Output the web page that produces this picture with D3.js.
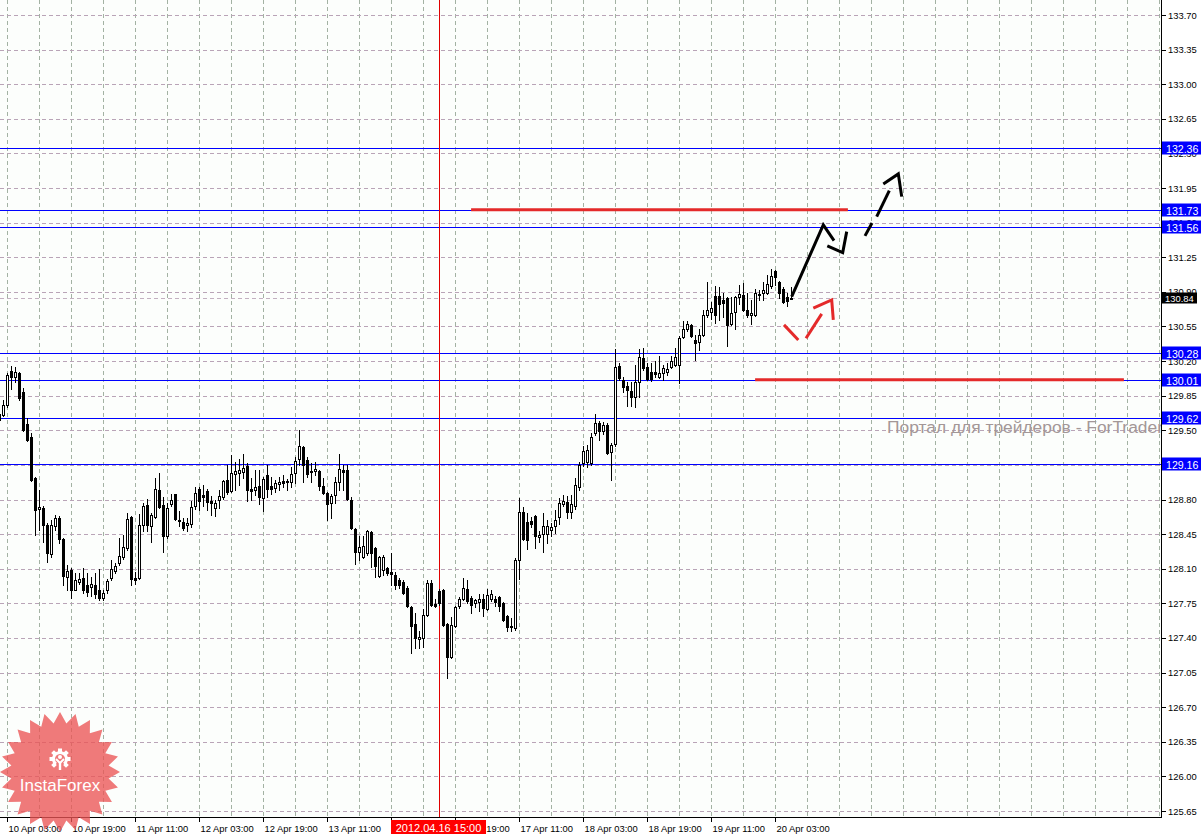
<!DOCTYPE html>
<html><head><meta charset="utf-8">
<script src="https://cdn.jsdelivr.net/npm/d3@7"></script>
<style>body{margin:0;background:#fff}svg{display:block}</style>
</head><body>
<svg id="c" width="1203" height="834"></svg>
<script>
// ---- data (H1 candles, index 0 = 10 Apr 02:00) ----
const firstIndex = -1;
const open  = [129.66,129.65,129.76,130.10,130.04,130.08,129.89,129.56,129.43,129.02,128.70,128.71,128.54,128.25,128.53,128.61,128.40,128.02,128.09,127.89,127.97,128.01,127.94,127.92,127.94,127.89,127.80,127.89,128.01,128.08,128.16,128.22,128.31,128.62,128.01,128.01,128.54,128.74,128.53,128.62,128.90,128.74,128.43,128.75,128.86,128.59,128.57,128.54,128.55,128.73,128.91,128.85,128.89,128.79,128.71,128.80,128.83,129.00,128.89,129.06,129.07,129.08,129.14,128.91,128.90,128.94,128.82,129.05,128.94,128.92,128.96,128.99,128.99,128.98,129.07,129.21,129.33,129.20,129.09,129.09,129.09,128.94,128.87,128.76,128.85,128.98,129.10,129.10,128.80,128.50,128.27,128.22,128.26,128.47,128.31,128.03,128.09,128.11,128.07,128.04,127.99,127.97,127.91,127.71,127.54,127.39,127.40,127.63,127.96,127.74,127.87,127.88,127.54,127.21,127.52,127.72,127.79,127.90,127.80,127.75,127.76,127.79,127.69,127.79,127.79,127.81,127.75,127.62,127.52,127.50,128.19,128.67,128.57,128.58,128.63,128.42,128.45,128.45,128.49,128.53,128.62,128.75,128.77,128.67,128.73,128.93,129.17,129.18,129.17,129.47,129.57,129.49,129.55,129.28,129.36,130.15,130.01,129.95,129.90,129.84,129.99,130.23,130.14,130.09,130.09,130.04,130.08,130.09,130.14,130.16,130.16,130.44,130.52,130.57,130.41,130.39,130.46,130.67,130.70,130.86,130.86,130.82,130.84,130.58,130.70,130.85,130.87,130.72,130.67,130.67,130.87,130.89,130.89,130.96,131.11,131.00,130.93,130.85,130.83];
const high  = [129.67,129.81,130.08,130.15,130.14,130.09,129.93,129.62,129.47,129.03,128.90,128.73,128.56,128.59,128.64,128.63,128.41,128.14,128.11,128.06,128.06,128.11,128.06,128.02,128.06,128.10,127.89,128.00,128.19,128.16,128.41,128.44,128.66,128.63,128.07,128.65,128.76,128.81,128.66,129.02,129.07,128.83,128.76,128.86,128.86,128.68,128.61,128.61,128.79,128.93,128.93,128.95,128.91,128.84,128.80,128.90,129.00,129.15,129.25,129.18,129.21,129.26,129.17,129.02,129.10,129.10,129.03,129.15,129.03,129.00,129.03,129.05,129.01,129.13,129.23,129.50,129.34,129.23,129.17,129.18,129.10,129.02,128.88,128.86,129.03,129.26,129.15,129.15,128.83,128.51,128.43,128.43,128.49,128.48,128.32,128.23,128.24,128.12,128.26,128.07,128.01,127.99,127.93,127.72,127.65,127.47,127.69,127.99,127.99,127.79,127.90,127.90,127.55,127.61,127.72,127.81,128.01,127.99,127.82,127.79,127.84,127.84,127.90,127.89,127.82,127.82,127.76,127.63,127.60,128.21,128.82,128.72,128.66,128.62,128.64,128.48,128.66,128.59,128.56,128.69,128.82,128.85,128.84,128.85,129.02,129.18,129.34,129.35,129.47,129.66,129.59,129.58,129.57,129.37,130.32,130.18,130.04,129.99,129.99,130.16,130.32,130.33,130.18,130.18,130.20,130.25,130.16,130.18,130.25,130.33,130.45,130.61,130.61,130.58,130.46,130.52,130.72,131.00,130.80,130.96,130.95,130.89,130.85,130.85,130.86,130.97,130.99,130.89,130.82,130.93,130.92,131.00,131.07,131.13,131.12,131.01,130.95,130.89,130.95];
const low   = [129.54,129.64,129.74,129.92,129.99,129.81,129.49,129.39,128.99,128.44,128.49,128.37,128.17,128.22,128.49,128.36,127.94,127.89,127.80,127.88,127.95,127.85,127.82,127.82,127.80,127.78,127.78,127.85,127.99,128.06,128.14,128.20,128.29,127.94,127.95,128.00,128.48,128.48,128.37,128.61,128.71,128.27,128.41,128.73,128.59,128.53,128.49,128.48,128.52,128.70,128.69,128.73,128.69,128.64,128.63,128.71,128.81,128.86,128.88,128.90,128.95,129.02,128.78,128.80,128.85,128.75,128.68,128.83,128.86,128.88,128.90,128.93,128.90,128.93,128.97,129.15,128.98,129.03,128.98,129.05,128.90,128.86,128.59,128.61,128.76,128.90,128.90,128.80,128.50,128.15,128.19,128.21,128.24,128.12,128.02,128.02,128.04,128.04,127.94,127.90,127.91,127.84,127.71,127.25,127.30,127.30,127.31,127.62,127.72,127.71,127.73,127.52,126.99,127.20,127.51,127.70,127.78,127.75,127.65,127.71,127.67,127.62,127.68,127.77,127.72,127.67,127.57,127.47,127.47,127.48,128.00,128.39,128.30,128.52,128.31,128.37,128.27,128.36,128.43,128.46,128.55,128.73,128.61,128.61,128.70,128.90,129.14,129.13,129.15,129.45,129.40,129.46,129.26,129.00,129.34,130.01,129.89,129.75,129.75,129.74,129.84,130.11,130.01,130.00,130.04,130.03,130.01,130.06,130.13,130.15,129.98,130.43,130.50,130.44,130.21,130.31,130.45,130.65,130.63,130.59,130.62,130.65,130.35,130.56,130.52,130.78,130.71,130.65,130.58,130.66,130.82,130.82,130.88,130.94,130.97,130.84,130.79,130.76,130.83];
const close = [129.60,129.76,130.06,130.04,130.09,129.83,129.50,129.40,129.00,128.69,128.72,128.54,128.26,128.54,128.61,128.40,128.03,128.08,127.89,127.99,128.00,127.89,127.86,127.95,127.84,127.80,127.85,127.98,128.10,128.13,128.23,128.32,128.60,128.00,127.99,128.54,128.73,128.54,128.64,128.91,128.72,128.43,128.71,128.80,128.60,128.58,128.51,128.56,128.72,128.87,128.78,128.83,128.77,128.76,128.76,128.84,128.99,128.88,129.07,129.09,129.10,129.12,128.90,128.89,128.93,128.83,129.01,128.91,128.91,128.97,128.98,128.97,128.98,129.06,129.19,129.34,129.15,129.06,129.08,129.11,128.94,128.87,128.75,128.84,128.98,129.11,129.08,128.81,128.51,128.27,128.32,128.33,128.48,128.26,128.13,128.22,128.22,128.06,128.05,127.94,127.94,127.85,127.72,127.52,127.40,127.41,127.63,127.96,127.73,127.72,127.75,127.53,127.21,127.53,127.71,127.79,127.91,127.77,127.73,127.78,127.79,127.70,127.83,127.84,127.76,127.72,127.58,127.51,127.51,128.19,128.67,128.40,128.39,128.55,128.43,128.44,128.53,128.53,128.52,128.59,128.76,128.79,128.67,128.75,128.95,129.15,129.29,129.30,129.43,129.57,129.49,129.55,129.27,129.35,130.14,130.03,129.94,129.91,129.84,129.99,130.24,130.13,130.02,130.02,130.07,130.08,130.13,130.12,130.20,130.24,130.43,130.52,130.58,130.45,130.38,130.46,130.67,130.72,130.74,130.67,130.78,130.79,130.56,130.69,130.85,130.88,130.72,130.67,130.69,130.89,130.88,130.92,130.98,131.06,131.05,130.89,130.80,130.81,130.84];

const timeTickIndex = [1,17,33,49,65,81,97,113,129,145,161,177,193];
const timeTickLabels = ["10 Apr 03:00","10 Apr 19:00","11 Apr 11:00","12 Apr 03:00","12 Apr 19:00","13 Apr 11:00","16 Apr 03:00","16 Apr 19:00","17 Apr 11:00","18 Apr 03:00","18 Apr 19:00","19 Apr 11:00","20 Apr 03:00"];
const priceTicks = [125.65,126.00,126.35,126.70,127.05,127.40,127.75,128.10,128.45,128.80,129.15,129.50,129.85,130.20,130.55,130.90,131.25,131.60,131.95,132.30,132.65,133.00,133.35,133.70];
const levelPrices = [132.36,131.73,131.56,130.28,130.01,129.62,129.16];
const bidPrice = 130.84;
const cursorIndex = 109;
const cursorLabel = "2012.04.16 15:00";
const zoneLines = [[131.73,116.9,211.1],[130.01,187.9,280.1]];
// forecast arrows: [index, price] points
const arrowSolidShaft = [[197.05,130.852],[204.95,131.577],[207.63,131.418]];
const arrowSolidHead  = [[205.95,131.365],[209.8,131.297],[210.8,131.509]];
const arrowDashParts  = [[[215.375,131.466],[217.125,131.597]],[[218.3,131.661],[221.45,131.924]]];
const arrowDashHead   = [[219.95,131.992],[223.7,132.093],[224.55,131.863]];
const arrowRedParts   = [[[195.125,130.566],[198.7,130.414]],[[200.625,130.431],[204.55,130.677]]];
const arrowRedHead    = [[202.45,130.735],[207.05,130.819],[207.45,130.617]];
const watermark = "Портал для трейдеров - ForTrader.org";
const logoText = "InstaForex";

// ---- layout ----
const W = 1203, H = 834, plotR = 1162, plotB = 818;
const svg = d3.select("#c");
const x = d3.scaleLinear().domain([0, 1]).range([3.5, 7.5]);
const y = d3.scaleLinear().domain([125.65, 133.70]).range([811, 15]);
const crisp = v => Math.round(v) + 0.5;
const font = "'Liberation Sans', Arial, sans-serif";

svg.append("rect").attr("width", W).attr("height", H).attr("fill", "#ffffff");
svg.append("rect").attr("width", plotR).attr("height", plotB).attr("fill", "#fcfefc");
svg.append("defs").append("clipPath").attr("id", "plot")
  .append("rect").attr("width", plotR).attr("height", plotB);
const plot = svg.append("g").attr("clip-path", "url(#plot)");

// grid
const vGrid = d3.range(1, 300, 8).filter(i => x(i) < plotR);
plot.append("g").selectAll("line").data(vGrid).join("line")
  .attr("x1", d => crisp(x(d) - 0.5)).attr("x2", d => crisp(x(d) - 0.5))
  .attr("y1", 0).attr("y2", plotB)
  .attr("stroke", "#a3b2a3").attr("stroke-dasharray", "4,3");
plot.append("g").selectAll("line").data(priceTicks).join("line")
  .attr("x1", 0).attr("x2", plotR)
  .attr("y1", d => crisp(y(d))).attr("y2", d => crisp(y(d)))
  .attr("stroke", "#b9a4b7").attr("stroke-dasharray", "4,3");

// watermark
plot.append("text").attr("x", 887).attr("y", 433).text(watermark)
  .attr("font-family", font).attr("font-size", 17.4).attr("fill", "#a39797");

// bid line
plot.append("line").attr("x1", 0).attr("x2", plotR)
  .attr("y1", crisp(y(bidPrice))).attr("y2", crisp(y(bidPrice)))
  .attr("stroke", "#c2b0c0").attr("stroke-dasharray", "4,3");

// level lines
plot.append("g").selectAll("line").data(levelPrices).join("line")
  .attr("x1", 0).attr("x2", plotR)
  .attr("y1", d => crisp(y(d))).attr("y2", d => crisp(y(d)))
  .attr("stroke", "#0000ff").attr("stroke-width", 1);

// cursor vertical line
plot.append("line").attr("x1", crisp(x(cursorIndex) - 0.5)).attr("x2", crisp(x(cursorIndex) - 0.5))
  .attr("y1", 0).attr("y2", plotB).attr("stroke", "#e00000");

// candles
const candles = open.map((o, i) => ({ i: i + firstIndex, o, h: high[i], l: low[i], c: close[i] }));
const cg = plot.append("g");
cg.selectAll("line").data(candles).join("line")
  .attr("x1", d => x(d.i)).attr("x2", d => x(d.i))
  .attr("y1", d => Math.round(y(d.h))).attr("y2", d => Math.round(y(d.l)) + 1)
  .attr("stroke", "#000");
cg.selectAll("rect").data(candles).join("rect")
  .attr("x", d => x(d.i) - 1).attr("width", 2)
  .attr("y", d => Math.round(y(Math.max(d.o, d.c))) + 0.5)
  .attr("height", d => Math.max(0, Math.round(y(Math.min(d.o, d.c))) - Math.round(y(Math.max(d.o, d.c)))))
  .attr("fill", d => d.c >= d.o ? "#ffffff" : "#000000")
  .attr("stroke", "#000").attr("stroke-width", 1);

// zone lines (red, thick)
plot.append("g").selectAll("line").data(zoneLines).join("line")
  .attr("x1", d => x(d[1])).attr("x2", d => x(d[2]))
  .attr("y1", d => y(d[0])).attr("y2", d => y(d[0]))
  .attr("stroke", "#e42a2a").attr("stroke-width", 3);

// arrows
const lineGen = d3.line().x(d => x(d[0])).y(d => y(d[1]));
const ag = plot.append("g").attr("fill", "none").attr("stroke-width", 3).attr("stroke-linecap", "butt");
ag.append("path").attr("d", lineGen(arrowSolidShaft)).attr("stroke", "#000");
ag.append("path").attr("d", lineGen(arrowSolidHead)).attr("stroke", "#000");
arrowDashParts.forEach(p => ag.append("path").attr("d", lineGen(p)).attr("stroke", "#000"));
ag.append("path").attr("d", lineGen(arrowDashHead)).attr("stroke", "#000");
arrowRedParts.forEach(p => ag.append("path").attr("d", lineGen(p)).attr("stroke", "#e42a2a"));
ag.append("path").attr("d", lineGen(arrowRedHead)).attr("stroke", "#e42a2a");

// axes lines
svg.append("line").attr("x1", plotR - 0.5).attr("x2", plotR - 0.5).attr("y1", 0).attr("y2", plotB).attr("stroke", "#000");
svg.append("line").attr("x1", 0).attr("x2", plotR).attr("y1", plotB - 0.5).attr("y2", plotB - 0.5).attr("stroke", "#000");

// right axis ticks & labels
const ya = svg.append("g");
ya.selectAll("line").data(priceTicks).join("line")
  .attr("x1", plotR).attr("x2", plotR + 4)
  .attr("y1", d => crisp(y(d))).attr("y2", d => crisp(y(d))).attr("stroke", "#000");
ya.selectAll("text").data(priceTicks).join("text")
  .attr("x", plotR + 6).attr("y", d => y(d) + 3.5)
  .text(d => d.toFixed(2))
  .attr("font-family", font).attr("font-size", 9.4).attr("fill", "#000");

// bottom ticks & labels
const xa = svg.append("g");
xa.selectAll("line").data(timeTickIndex).join("line")
  .attr("x1", d => crisp(x(d) - 0.5)).attr("x2", d => crisp(x(d) - 0.5))
  .attr("y1", plotB).attr("y2", plotB + 4).attr("stroke", "#000");
xa.selectAll("text").data(timeTickIndex).join("text")
  .attr("x", d => x(d) + 1).attr("y", plotB + 14)
  .text((d, i) => timeTickLabels[i])
  .attr("font-family", font).attr("font-size", 9.4).attr("fill", "#000");

// price label boxes
const lb = svg.append("g");
levelPrices.forEach(p => {
  const cy = crisp(y(p));
  lb.append("rect").attr("x", plotR).attr("y", cy - 7).attr("width", 39).attr("height", 13).attr("fill", "#0000ff");
  lb.append("text").attr("x", plotR + 4).attr("y", cy + 4).text(p.toFixed(2))
    .attr("font-family", font).attr("font-size", 10.6).attr("fill", "#fff");
});
{
  const cy = crisp(y(bidPrice));
  lb.append("rect").attr("x", plotR).attr("y", cy - 6).attr("width", 35).attr("height", 11).attr("fill", "#000");
  lb.append("text").attr("x", plotR + 3).attr("y", cy + 3.5).text(bidPrice.toFixed(2))
    .attr("font-family", font).attr("font-size", 9.4).attr("fill", "#fff");
}
// cursor time label
{
  const cx = x(cursorIndex) - 0.5;
  svg.append("rect").attr("x", cx - 48).attr("y", 820).attr("width", 95).attr("height", 14).attr("fill", "#ff0000");
  svg.append("text").attr("x", cx - 0.5).attr("y", 832).attr("text-anchor", "middle").text(cursorLabel)
    .attr("font-family", font).attr("font-size", 11).attr("fill", "#fff");
}

// InstaForex logo
{
  const lg = svg.append("g").attr("transform", "translate(60,772)");
  const n = 24, R = 60, r = 49;
  const pts = d3.range(n * 2).map(k => {
    const a = Math.PI * k / n - Math.PI / 2;
    const rr = k % 2 ? r : R;
    return [rr * Math.cos(a), rr * Math.sin(a)];
  });
  lg.append("path").attr("d", "M" + pts.join("L") + "Z").attr("fill", "#ea5454").attr("opacity", 0.78);
  // gear icon
  const gear = lg.append("g").attr("transform", "translate(0,-13)").attr("fill", "#fff").attr("stroke", "none");
  const teeth = 8;
  d3.range(teeth).forEach(t => {
    const a = t * 360 / teeth;
    if (a > 135 && a < 225) return;
    gear.append("rect").attr("x", -2).attr("y", -10.5).attr("width", 4).attr("height", 4)
      .attr("transform", `rotate(${a})`);
  });
  gear.append("path").attr("d", d3.arc().innerRadius(5).outerRadius(8).startAngle(-2.45).endAngle(2.45)());
  gear.append("circle").attr("cx", 0).attr("cy", -2).attr("r", 2);
  gear.append("path").attr("d", "M-4,0 L0,4 L4,0").attr("fill", "none").attr("stroke", "#fff").attr("stroke-width", 2);
  gear.append("rect").attr("x", -1.2).attr("y", 3).attr("width", 2.4).attr("height", 8);
  lg.append("text").attr("x", 0).attr("y", 19).attr("text-anchor", "middle").text(logoText)
    .attr("font-family", font).attr("font-size", 17).attr("fill", "#fff");
}
</script>
</body></html>
